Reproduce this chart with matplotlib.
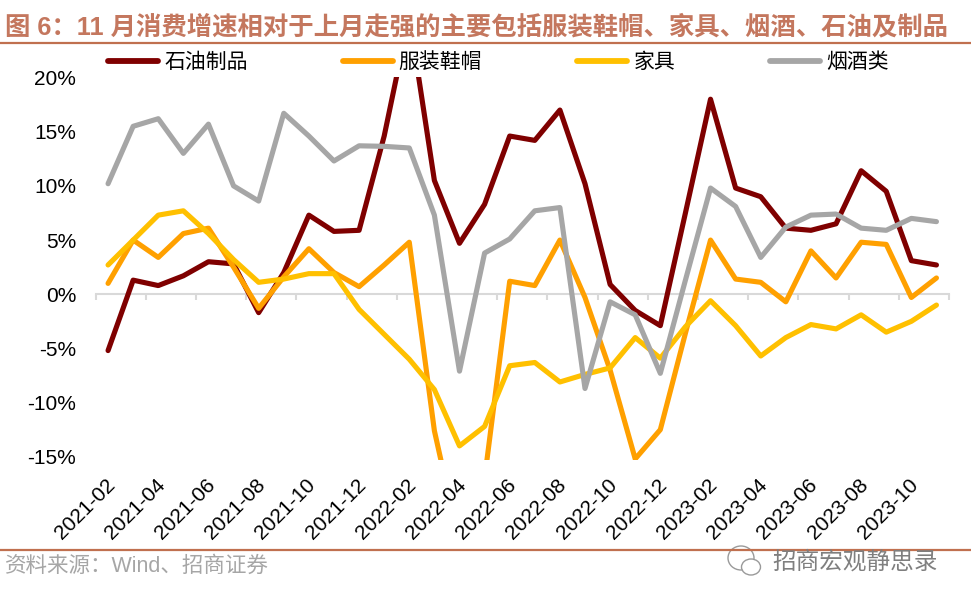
import numpy as np
import matplotlib
matplotlib.use("Agg")
import matplotlib.pyplot as plt
from matplotlib.lines import Line2D
from matplotlib.patches import Ellipse
from matplotlib.transforms import ScaledTranslation

plt.rcParams['font.family'] = ['Liberation Sans', 'Noto Sans CJK SC', 'DejaVu Sans']

months = ['2021-%02d' % m for m in range(2, 13)] + ['2022-%02d' % m for m in range(1, 13)] + ['2023-%02d' % m for m in range(1, 12)]

oil = [-5.2, 1.3, 0.8, 1.7, 3.0, 2.8, -1.7, 2.0, 7.3, 5.8, 5.9,
       14.6, 25.7, 10.5, 4.7, 8.3, 14.6, 14.2, 17.0, 10.2, 0.9, -1.5, -2.9,
       7.5, 18.0, 9.8, 9.0, 6.1, 5.9, 6.5, 11.4, 9.5, 3.1, 2.7]
clothes = [1.0, 5.0, 3.4, 5.6, 6.1, 2.5, -1.3, 1.6, 4.2, 2.0, 0.7,
           2.7, 4.8, -12.6, -23.0, -17.0, 1.2, 0.8, 5.0, -0.3, -7.0, -15.2, -12.5,
           -3.6, 5.0, 1.4, 1.1, -0.7, 4.0, 1.5, 4.8, 4.6, -0.3, 1.5]
furniture = [2.7, 5.0, 7.3, 7.7, 5.6, 3.2, 1.1, 1.4, 1.9, 1.9, -1.4,
             -3.7, -6.0, -8.8, -14.0, -12.2, -6.6, -6.3, -8.1, -7.4, -6.8, -4.0, -5.9,
             -3.0, -0.6, -2.9, -5.7, -4.0, -2.8, -3.2, -1.9, -3.5, -2.5, -1.0]
tobacco = [10.2, 15.5, 16.2, 13.0, 15.7, 10.0, 8.6, 16.7, 14.6, 12.3, 13.7,
           13.65, 13.5, 7.3, -7.1, 3.8, 5.1, 7.7, 8.0, -8.7, -0.7, -1.9, -7.3,
           1.3, 9.8, 8.1, 3.4, 6.2, 7.3, 7.4, 6.1, 5.9, 7.0, 6.7]

series_names = ['石油制品', '服装鞋帽', '家具', '烟酒类']
series_colors = ['#7F0000', '#FFA000', '#FFC000', '#A6A6A6']
y_ticks = [-15, -10, -5, 0, 5, 10, 15, 20]

title = '图 6\uff1a11 月消费增速相对于上月走强的主要包括服装鞋帽、家具、烟酒、石油及制品'
source = '资料来源\uff1aWind、招商证券'
watermark = '招商宏观静思录'

W, H = 971, 604
fig = plt.figure(figsize=(W / 100, H / 100), dpi=100)
ax = fig.add_axes([95.5 / W, 1 - 460 / H, (949 - 95.5) / W, (460 - 77) / H])

x = np.arange(len(months))
for values, name, color in zip([oil, clothes, furniture, tobacco], series_names, series_colors):
    ax.plot(x, values, color=color, lw=3.7, label=name, solid_capstyle='round', solid_joinstyle='round')

ax.set_xlim(-0.5, len(months) - 0.5)
ax.set_ylim(-15.3, 20.05)

# x axis sits on zero, ticks mark every second category boundary
for side in ['top', 'right', 'left']:
    ax.spines[side].set_visible(False)
ax.spines['bottom'].set_position(('data', 0))
ax.spines['bottom'].set_color('#D9D9D9')
ax.spines['bottom'].set_linewidth(1.5)
ax.spines['bottom'].set_zorder(1)

ax.set_xticks(x[::2])
ax.set_xticklabels(months[::2], rotation=45, ha='right', va='top', rotation_mode='anchor', fontsize=15)
ax.set_xticks(np.arange(-0.5, len(months), 2), minor=True)
ax.tick_params(axis='x', which='major', length=0, pad=0)
ax.tick_params(axis='x', which='minor', length=4, width=1.5, color='#D9D9D9')
# labels hang below the plot, not below the zero line
for lab in ax.get_xticklabels():
    lab.set_transform(lab.get_transform() + ScaledTranslation(-3 / 100, -181 / 100, fig.dpi_scale_trans))

ax.set_yticks(y_ticks)
ax.set_yticklabels(['%d%%' % v for v in y_ticks], fontsize=15)
ax.tick_params(axis='y', length=0, pad=14)

leg = ax.legend(loc='center left', bbox_to_anchor=(108 / W, 1 - 62 / H), bbox_transform=fig.transFigure,
                ncol=4, frameon=False, fontsize=15, borderpad=0, borderaxespad=0,
                handlelength=2.4, handletextpad=0.3, columnspacing=4.55)
for handle in leg.get_lines():
    handle.set_linewidth(4.2)

# header and footer
fig.text(5 / W, 1 - 27 / H, title, fontsize=18.3, fontweight='bold', color='#C4775E', va='center', ha='left')
fig.add_artist(Line2D([0, 1], [1 - 43 / H] * 2, color='#C0704F', lw=1.6))
fig.add_artist(Line2D([0, 1], [1 - 550 / H] * 2, color='#C0704F', lw=1.6))
fig.text(5 / W, 1 - 566 / H, source, fontsize=15.5, color='#A6A6A6', va='center', ha='left')
fig.text(772 / W, 1 - 562 / H, watermark, fontsize=17, color='#7F7F7F', va='center', ha='left')

# wechat style mark next to the watermark
for cx, cy, w, h in [(741, 558, 26, 24), (751, 567, 19, 16)]:
    fig.add_artist(Ellipse((cx / W, 1 - cy / H), w / W, h / H, transform=fig.transFigure,
                           fill=True, fc='white', ec='#9A9A9A', lw=1))

fig.savefig('out.png', dpi=100)
